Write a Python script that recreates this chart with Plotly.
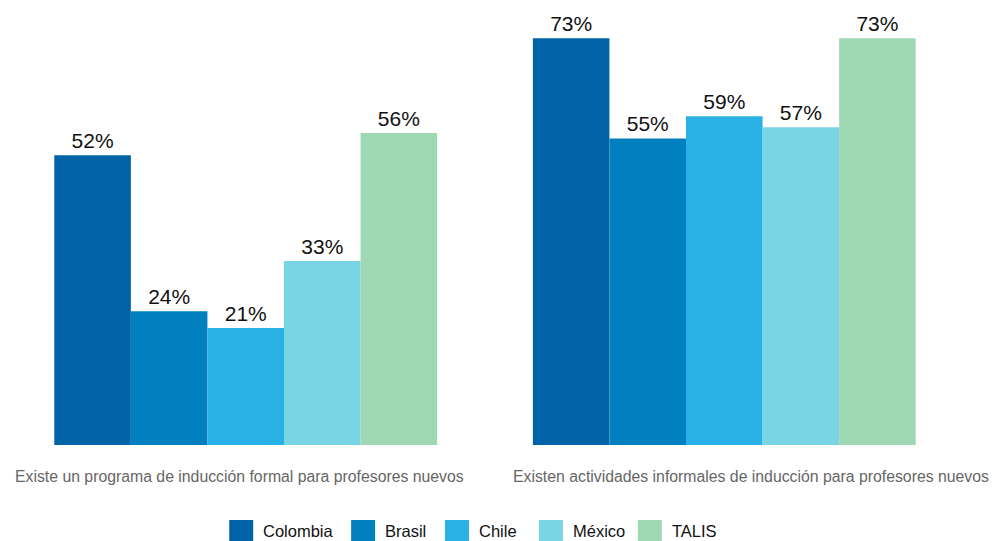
import plotly.graph_objects as go

categories = ["Existe un programa de inducción formal para profesores nuevos",
              "Existen actividades informales de inducción para profesores nuevos"]
series_names = ["Colombia", "Brasil", "Chile", "México", "TALIS"]
colombia = [52, 73]
brasil = [24, 55]
chile = [21, 59]
mexico = [33, 57]
talis = [56, 73]
values = [colombia, brasil, chile, mexico, talis]
colors = ["#0063A8", "#0080BF", "#29B1E6", "#78D5E3", "#9FD8B5"]

OFF = 8  # page body margin
W, H = 990, 533
STEP = 479.0
XMIN, XMAX = -0.48, 1.48
L = (245.5 - OFF) + XMIN * STEP
PW = (XMAX - XMIN) * STEP
R = W - L - PW
YMAX = 75
SCALE = 407 / 73.0
B = H - (445 - OFF)
PH = YMAX * SCALE
T = H - B - PH
FONT = "Liberation Sans, Arial, Helvetica, sans-serif"


def px_x(p):
    return (p - OFF - L) / PW


def px_y(p):
    return (H - B - (p - OFF)) / PH


fig = go.Figure()
for name, vals, col in zip(series_names, values, colors):
    fig.add_trace(go.Bar(
        x=categories, y=vals, name=name, marker_color=col, marker_line_width=0,
        text=[f"{v}%" for v in vals], textposition="outside", cliponaxis=False,
        textfont=dict(family=FONT, size=21, color="#111111"),
        showlegend=False,
    ))

# category labels
shifts = [-6, 27]
for cat, sh in zip(categories, shifts):
    fig.add_annotation(x=cat, xref="x", y=px_y(477), yref="paper", text=cat,
                       showarrow=False, xshift=sh, yanchor="middle",
                       font=dict(family=FONT, size=15.8, color="#666666"))

# custom legend
sq_left = [229, 351, 445, 539, 638]
for name, col, x0 in zip(series_names, colors, sq_left):
    fig.add_shape(type="rect", xref="paper", yref="paper",
                  x0=px_x(x0), x1=px_x(x0 + 24), y0=px_y(542), y1=px_y(520),
                  fillcolor=col, line_width=0)
    fig.add_annotation(x=px_x(x0 + 32), xref="paper", y=px_y(531), yref="paper",
                       text=name, showarrow=False, xanchor="left", yanchor="middle",
                       font=dict(family=FONT, size=16.5, color="#111111"))

fig.update_layout(
    width=W, height=H, barmode="group", bargap=0.2, bargroupgap=0,
    margin=dict(l=L, r=R, t=T, b=B, autoexpand=False),
    plot_bgcolor="white", paper_bgcolor="white",
    xaxis=dict(showticklabels=False, showgrid=False, zeroline=False, showline=False,
               range=[XMIN, XMAX]),
    yaxis=dict(visible=False, range=[0, YMAX]),
)
fig.write_html("out.html")
